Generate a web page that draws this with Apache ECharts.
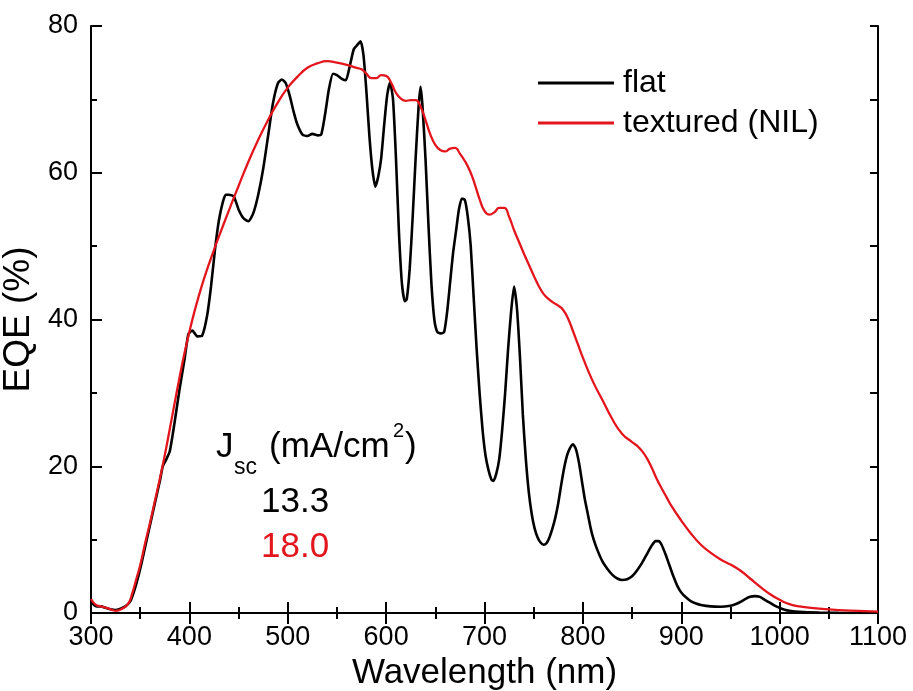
<!DOCTYPE html>
<html>
<head>
<meta charset="utf-8">
<script src="https://cdn.jsdelivr.net/npm/echarts@6/dist/echarts.min.js"></script>
<style>html,body{margin:0;padding:0;background:#fff}#c{width:913px;height:691px}</style>
</head>
<body>
<div id="c"></div>
<script>
var seriesNames = ['flat', 'textured (NIL)'];
var xTicks = [300, 400, 500, 600, 700, 800, 900, 1000, 1100];
var yTicks = [0, 20, 40, 60, 80];

var flatWl = [300,303,306,310,315,320,325,330,335,340,345,350,355,360,365,370,373,376,380,385,390,395,399,403,408,413,418,422,426,430,434,437,440,445,450,455,460,465,470,475,480,485,490,494,498,502,506,510,515,520,525,530,534,538,542,546,550,555,559,563,567,570,574,577,580,583,586,589,592,595,598,601,604,607,610,613,616,619,621,624,627,630,633,635,637,640,643,646,649,652,656,659,662,665,668,671,674,677,680,683,686,689,692,695,698,701,704,707,709,712,715,718,721,724,727,730,733,736,739,742,745,748,751,754,757,760,763,766,769,772,775,778,781,784,787,790,793,796,799,802,805,808,811,815,820,825,830,835,840,845,850,855,860,865,870,874,877,880,884,888,892,896,900,905,910,915,920,930,940,950,955,960,965,970,975,980,985,990,995,1000,1005,1010,1020,1040,1060,1100];
var flatEqe = [1.6,1.1,0.9,0.9,0.7,0.5,0.4,0.6,0.9,1.6,3.5,6,9,12,15,18,20,20.8,22,26,30.5,34.5,38,38.5,37.7,37.8,40.5,44.5,49.5,53.5,56,57,57,56.8,55,53.8,53.4,54.5,57,60.5,65,69.5,72.2,72.7,72.2,70.5,68.3,66.5,65.2,65,65.3,65.1,65.2,68,71.5,73.5,73.3,72.8,72.6,74.5,76.8,77.3,77.9,76,71,65,60.5,58.1,59.5,62,66.5,70.5,72.3,70,62,52,45,42.5,42.8,47,54,62,69,71.7,69,62,53,45,40,38.3,38.1,38.3,41,45,49,52,55,56.5,56.3,54,50,43,36,30,25,21.5,19.5,18.2,18,19,21,25,30,36,41,44.5,41.5,35,27,21,16.5,13.5,11.5,10.3,9.6,9.3,9.5,10.3,11.5,13,15,17.5,19.8,21.5,22.5,23,22.3,20.5,18,15.5,13.5,11.5,10,8.5,7,6,5.2,4.7,4.5,4.6,5,5.8,6.8,8,9.2,9.8,9.8,9.3,8,6.5,5,3.7,2.8,2.1,1.6,1.3,1.1,0.9,0.85,1.0,1.2,1.5,1.9,2.2,2.3,2.2,1.8,1.4,1.0,0.7,0.45,0.3,0.15,0.05,0.02,0];

var texWl = [300,305,310,318,325,332,338,342,346,350,355,360,365,370,375,380,385,390,395,400,405,410,415,420,425,430,440,450,460,470,480,490,500,510,520,530,540,550,560,570,575,580,585,590,595,600,605,610,615,620,625,630,635,640,645,650,655,660,665,670,675,680,685,690,695,700,705,710,715,720,725,730,735,740,745,750,755,760,765,770,775,780,785,790,795,800,810,820,830,840,850,855,860,865,870,875,880,885,890,900,910,920,930,940,950,960,970,980,990,1000,1010,1020,1040,1060,1080,1100];
var texEqe = [1.9,1.1,0.9,0.6,0.3,0.6,1.3,2.7,4.6,6.5,9.5,12.3,15.3,18.3,21.5,25,28.6,32.1,35.4,38.3,41,43.4,45.6,47.6,49.5,51.3,54.8,58.2,61.5,64.5,67.2,69.6,71.6,73.1,74.3,74.9,75.2,75.0,74.7,74.3,74.1,73.5,72.9,72.9,73.3,73.2,72.3,70.9,70.1,69.8,69.9,69.9,69,67.2,65.2,63.8,63.1,62.9,63.3,63.4,62.6,61.6,60.3,58.5,56.4,54.8,54.3,54.6,55.2,55.2,54,52.2,50.6,49,47.5,46,44.6,43.5,42.8,42.3,41.9,41.3,40.1,38.4,36.6,34.8,31.6,29,26.4,24.4,23.3,22.8,22.1,21.1,19.8,18.3,17,15.8,14.6,12.6,10.8,9.3,8.2,7.3,6.6,5.8,4.7,3.6,2.6,1.8,1.2,0.9,0.6,0.4,0.3,0.2];

var jscFlat = '13.3';
var jscTex = '18.0';

function pairs(xs, ys) { return xs.map(function (x, i) { return [x, ys[i]]; }); }
function plain(v) { return String(v); }

var FONT = 'Liberation Sans, Arial, Helvetica, sans-serif';
var RED = '#e3161d';
var chart = echarts.init(document.getElementById('c'), null, { renderer: 'canvas' });

var baseAxisLine = { show: true, lineStyle: { color: '#000', width: 2 } };

chart.setOption({
  animation: false,
  backgroundColor: '#fff',
  textStyle: { fontFamily: FONT, color: '#000' },
  grid: { left: 91, right: 35, top: 26, bottom: 78, containLabel: false, outerBoundsMode: 'none' },
  legend: {
    data: seriesNames,
    orient: 'vertical',
    left: 533,
    top: 62,
    itemWidth: 76,
    itemHeight: 14,
    itemGap: 8,
    icon: 'path://M0,5.6 L76,5.6 L76,8.4 L0,8.4 Z',
    textStyle: { fontSize: 32, color: '#000', fontFamily: FONT, padding: [0, 0, 0, 4], lineHeight: 32 }
  },
  xAxis: [{
    type: 'value', position: 'bottom', min: xTicks[0], max: xTicks[xTicks.length - 1], interval: 100,
    axisLine: baseAxisLine,
    axisTick: { show: true, inside: true, length: 11, lineStyle: { color: '#000', width: 2 } },
    minorTick: { show: true, splitNumber: 2, length: 6, lineStyle: { color: '#000', width: 2 } },
    axisLabel: { fontSize: 27, color: '#000', margin: 11, fontFamily: FONT, formatter: plain, hideOverlap: false },
    splitLine: { show: false },
    name: 'Wavelength (nm)', nameLocation: 'middle', nameGap: 36,
    nameTextStyle: { fontSize: 35, color: '#000', fontFamily: FONT }
  }, {
    type: 'value', position: 'top', min: xTicks[0], max: xTicks[xTicks.length - 1], interval: 100,
    axisLine: baseAxisLine,
    axisTick: { show: true, inside: true, length: 11, lineStyle: { color: '#000', width: 2 } },
    minorTick: { show: true, splitNumber: 2, length: 6, lineStyle: { color: '#000', width: 2 } },
    axisLabel: { show: false }, splitLine: { show: false }
  }],
  yAxis: [{
    type: 'value', position: 'left', min: yTicks[0], max: yTicks[yTicks.length - 1], interval: 20,
    axisLine: baseAxisLine,
    axisTick: { show: true, inside: true, length: 11, lineStyle: { color: '#000', width: 2 } },
    minorTick: { show: true, splitNumber: 2, length: 6, lineStyle: { color: '#000', width: 2 } },
    axisLabel: { fontSize: 27, color: '#000', margin: 13, fontFamily: FONT, formatter: plain },
    splitLine: { show: false },
    name: 'EQE (%)', nameLocation: 'middle', nameGap: 46,
    nameTextStyle: { fontSize: 37, color: '#000', fontFamily: FONT }
  }, {
    type: 'value', position: 'right', min: 0, max: 80, interval: 10,
    axisLine: baseAxisLine,
    axisTick: { show: true, inside: true, length: 8, lineStyle: { color: '#000', width: 2 } },
    axisLabel: { show: false }, splitLine: { show: false }
  }],
  series: [{
    name: seriesNames[0], type: 'line', xAxisIndex: 0, yAxisIndex: 0,
    data: pairs(flatWl, flatEqe), showSymbol: false, symbol: 'none', smooth: 0.2,
    lineStyle: { color: '#000', width: 2.6 }, itemStyle: { color: '#000' }
  }, {
    name: seriesNames[1], type: 'line', xAxisIndex: 0, yAxisIndex: 0,
    data: pairs(texWl, texEqe), showSymbol: false, symbol: 'none', smooth: 0.5,
    lineStyle: { color: RED, width: 2.3 }, itemStyle: { color: RED }
  }],
  graphic: [
    { type: 'text', left: 216, top: 430, style: { text: 'J', fontSize: 35, fontFamily: FONT, fill: '#000' } },
    { type: 'text', left: 234, top: 456, style: { text: 'sc', fontSize: 23, fontFamily: FONT, fill: '#000' } },
    { type: 'text', left: 269, top: 430, style: { text: '(mA/cm', fontSize: 35, fontFamily: FONT, fill: '#000' } },
    { type: 'text', left: 393, top: 421, style: { text: '2', fontSize: 20, fontFamily: FONT, fill: '#000' } },
    { type: 'text', left: 405, top: 430, style: { text: ')', fontSize: 35, fontFamily: FONT, fill: '#000' } },
    { type: 'text', left: 261, top: 485, style: { text: jscFlat, fontSize: 35, fontFamily: FONT, fill: '#000' } },
    { type: 'text', left: 261, top: 530, style: { text: jscTex, fontSize: 35, fontFamily: FONT, fill: RED } }
  ]
});
</script>
</body>
</html>
